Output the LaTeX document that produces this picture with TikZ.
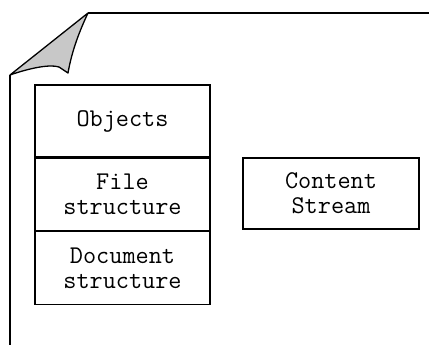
\documentclass[tikz,border=0pt]{standalone}
\usetikzlibrary{positioning}
\definecolor{foldcolor}{RGB}{200,200,200}

\begin{document}
\begin{tikzpicture}[
    x=1pt, y=1pt,
    every node/.style={font=\ttfamily\fontsize{25.5}{25}\selectfont},
    layerbox/.style={rectangle, draw=black, line width=1.3pt, fill=white,
        minimum width=175pt, align=center, inner sep=0pt},
    pageedge/.style={draw=black, line width=2pt},
]
\useasboundingbox (0,0) rectangle (429,-345);

% === PAGE ===
\coordinate (pagetop) at (88,-13);
\coordinate (pageleft) at (10,-75);
\draw[pageedge] (pagetop) -- (429,-13);
\draw[pageedge] (pageleft) -- (10,-345);

% dog-ear
\draw[pageedge, line width=1.3pt, fill=foldcolor, line join=round]
    (pagetop) -- (pageleft)
    .. controls (30,-68) and (50,-64) .. (59,-67)
    -- (68,-73)
    .. controls (72,-50) and (80,-30) .. (pagetop) -- cycle;

% === LAYER STACK (Left) ===
\node[layerbox, minimum height=72pt] (objects) at (122.5,-121) {\raisebox{5pt}{Objects}};
\node[layerbox, minimum height=72pt, below=0pt of objects] (filestruct) {File\\structure};
\node[layerbox, minimum height=73pt, below=0pt of filestruct] (docstruct) {Document\\structure};

% === CONTENT ===
\node[layerbox, minimum width=176pt, minimum height=71pt] (content) at (331,-193.5) {Content\\Stream};

\end{tikzpicture}
\end{document}
